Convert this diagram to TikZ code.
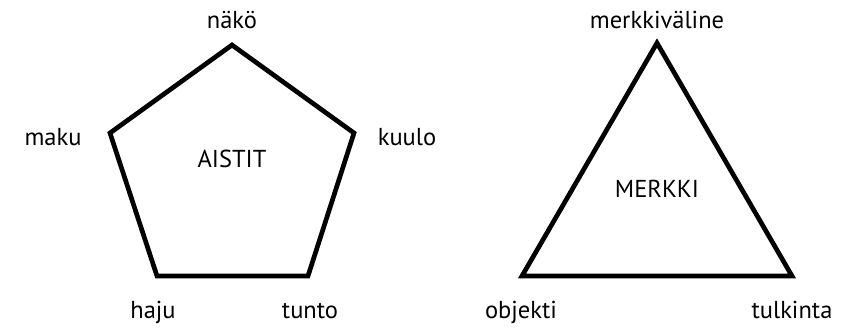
\documentclass[tikz,border=0pt]{standalone}
\usepackage{fontspec}
\setmainfont{PT Sans}
\begin{document}
\begin{tikzpicture}[x=1pt,y=-1pt,
  lbl/.style={font=\fontsize{24.5}{28}\selectfont, anchor=base, inner sep=0pt},
  shape line/.style={line width=4.7pt, line join=miter}]
\useasboundingbox (0,0) rectangle (849,328);
% pentagon
\coordinate (p1) at (232,45);
\coordinate (p2) at (354,133);
\coordinate (p3) at (308,276);
\coordinate (p4) at (157,276);
\coordinate (p5) at (110,133);
\draw[shape line] (p1) -- (p2) -- (p3) -- (p4) -- (p5) -- cycle;
\node[lbl] (nako) at (232,29) {näkö};
\node[lbl] (maku) at (53,146) {maku};
\node[lbl] (kuulo) at (407,146) {kuulo};
\node[lbl] (haju) at (153,319) {haju};
\node[lbl] (tunto) at (310,319) {tunto};
\node[lbl] (aistit) at (232,168) {AISTIT};
% triangle
\coordinate (t1) at (657,43);
\coordinate (t2) at (792,276);
\coordinate (t3) at (522,276);
\draw[shape line] (t1) -- (t2) -- (t3) -- cycle;
\node[lbl] (merkkivaline) at (657,29) {merkkiväline};
\node[lbl] (merkki) at (657,198) {MERKKI};
\node[lbl] (objekti) at (521,319) {objekti};
\node[lbl] (tulkinta) at (792,319) {tulkinta};
\end{tikzpicture}
\end{document}
